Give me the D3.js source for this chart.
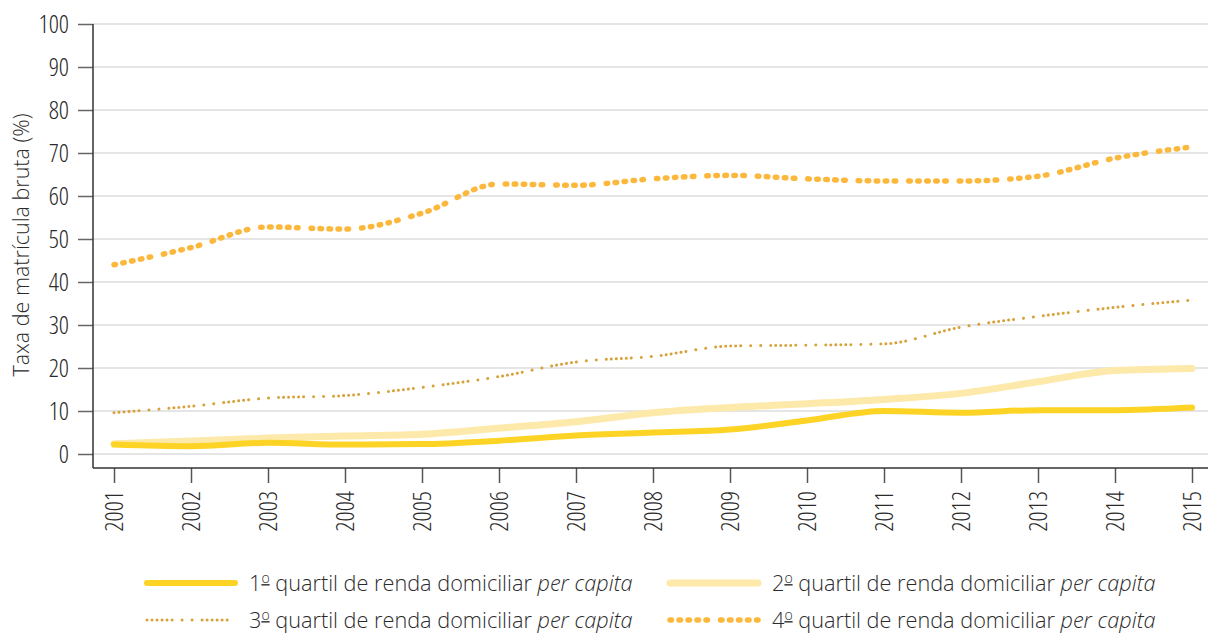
<!DOCTYPE html>
<html>
<head>
<meta charset="utf-8">
<script src="https://cdn.jsdelivr.net/npm/d3@7"></script>
<style>
  body { margin: 0; background: #fff; }
  svg text { font-family: "Open Sans", sans-serif; font-weight: 300; font-stretch: 80%; fill: #2b2b2b; }
  svg text.wide { font-stretch: 100%; }
</style>
</head>
<body>
<div id="chart"></div>
<script>
const years = [2001, 2002, 2003, 2004, 2005, 2006, 2007, 2008, 2009, 2010, 2011, 2012, 2013, 2014, 2015];
const q1 = [2.2, 1.8, 2.6, 2.2, 2.3, 3.1, 4.3, 5.0, 5.7, 7.8, 10.0, 9.6, 10.2, 10.2, 10.8];
const q2 = [2.4, 3.0, 3.7, 4.2, 4.6, 6.0, 7.5, 9.6, 10.8, 11.7, 12.7, 14.1, 16.8, 19.4, 19.9];
const q3 = [9.6, 11.1, 13.0, 13.6, 15.5, 18.0, 21.4, 22.7, 25.1, 25.3, 25.6, 29.5, 32.0, 34.1, 35.8];
const q4 = [44.0, 48.0, 52.8, 52.3, 56.0, 62.8, 62.5, 64.0, 64.8, 64.0, 63.5, 63.5, 64.6, 68.8, 71.4];
const yTicks = [0, 10, 20, 30, 40, 50, 60, 70, 80, 90, 100];
const yTitle = "Taxa de matrícula bruta (%)";
const legendText = " quartil de renda domiciliar ";

const series = [
  { ord: "1", values: q1, color: "#fdd425", width: 6, dash: null },
  { ord: "2", values: q2, color: "#fde9aa", width: 7, dash: null },
  { ord: "3", values: q3, color: "#d7a23a", width: 3,
    dash: "0.01 5 0.01 5 0.01 5 0.01 5 0.01 5 0.01 10 0.01 10 0.01 10" },
  { ord: "4", values: q4, color: "#fcb83c", width: 5.5,
    dash: "1.5 7.5 1.5 7.5 1.5 7.5 1.5 7.5 1.5 13" }
];

const W = 1208, H = 634;
const svg = d3.select("#chart").append("svg")
  .attr("width", W).attr("height", H);

const axisX = 93, axisY = 468;
const x = d3.scaleLinear().domain([2001, 2015]).range([114, 1192]);
const y = d3.scaleLinear().domain([0, 100]).range([454, 24]);

// gridlines
svg.append("g").selectAll("line").data(yTicks).enter().append("line")
  .attr("x1", axisX).attr("x2", W)
  .attr("y1", d => y(d)).attr("y2", d => y(d))
  .attr("stroke", "#dcdcdc").attr("stroke-width", 1.5);

// y axis
const yAxis = svg.append("g").attr("transform", `translate(${axisX},0)`)
  .call(d3.axisLeft(y).tickValues(yTicks).tickSize(15).tickPadding(9));
yAxis.select(".domain").remove();
yAxis.selectAll(".tick line").attr("stroke", "#666").attr("stroke-width", 1.5);
yAxis.selectAll(".tick text").attr("font-size", 25).attr("font-family", null);
svg.append("line")
  .attr("x1", axisX).attr("x2", axisX).attr("y1", y(100)).attr("y2", axisY)
  .attr("stroke", "#333").attr("stroke-width", 1.5);

// x axis
const xAxis = svg.append("g").attr("transform", `translate(0,${axisY})`)
  .call(d3.axisBottom(x).tickValues(years).tickFormat(d3.format("d")).tickSize(15));
xAxis.select(".domain").remove();
xAxis.selectAll(".tick line").attr("stroke", "#555").attr("stroke-width", 1.5);
xAxis.selectAll(".tick text")
  .attr("font-size", 25).attr("font-family", null)
  .attr("transform", "rotate(-90)")
  .attr("text-anchor", "end")
  .attr("x", -23).attr("y", 0).attr("dy", "0.35em");
svg.append("line")
  .attr("x1", axisX).attr("x2", W).attr("y1", axisY).attr("y2", axisY)
  .attr("stroke", "#333").attr("stroke-width", 1.5);

// y title
svg.append("text")
  .attr("class", "wide")
  .attr("transform", `translate(29,245) rotate(-90)`)
  .attr("text-anchor", "middle")
  .attr("font-size", 21.5)
  .text(yTitle);

// lines
const line = d3.line()
  .x((d, i) => x(years[i]))
  .y(d => y(d))
  .curve(d3.curveMonotoneX);

svg.append("g").selectAll("path").data(series.slice().reverse()).enter().append("path")
  .attr("d", d => line(d.values))
  .attr("fill", "none")
  .attr("stroke", d => d.color)
  .attr("stroke-width", d => d.width)
  .attr("stroke-linecap", "round")
  .attr("stroke-linejoin", "round")
  .attr("stroke-dasharray", d => d.dash);

// legend
const legendPos = [[145, 583], [668, 583], [145, 620], [668, 620]];
const lg = svg.append("g").selectAll("g").data(series).enter().append("g")
  .attr("transform", (d, i) => `translate(${legendPos[i][0]},${legendPos[i][1]})`);
lg.append("line")
  .attr("x1", 2).attr("x2", 90).attr("y1", 0).attr("y2", 0)
  .attr("stroke", d => d.color)
  .attr("stroke-width", d => d.width)
  .attr("stroke-linecap", "round")
  .attr("stroke-dasharray", d => d.dash);
const lt = lg.append("text")
  .attr("class", "wide")
  .attr("x", 104).attr("y", 0).attr("dy", "0.36em")
  .attr("font-size", 21.7);
lt.append("tspan").text(d => d.ord);
lt.append("tspan").attr("font-size", 14).attr("dy", "-0.55em")
  .attr("text-decoration", "underline").text("o");
lt.append("tspan").attr("dy", "0.36em").text(legendText);
lt.append("tspan").attr("font-style", "italic").text("per capita");
</script>
</body>
</html>
